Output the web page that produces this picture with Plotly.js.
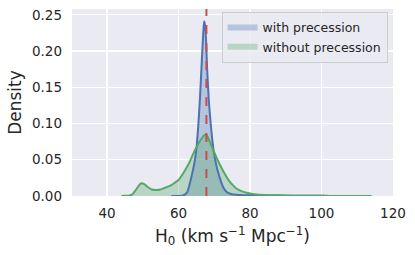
<!DOCTYPE html>
<html>
<head>
<meta charset="utf-8">
<script src="https://cdn.plot.ly/plotly-3.0.1.min.js"></script>
<style>html,body{margin:0;padding:0;background:#fff;}#chart{width:415px;height:255px;}</style>
</head>
<body>
<div id="chart"></div>
<script>
// H0 grid and density values
const withX = [58, 60, 61, 61.5, 62, 62.5, 63, 63.5, 64, 64.5, 65, 65.5, 66, 66.5, 67, 67.2, 67.5, 67.7, 68, 68.5, 69, 69.5, 70, 70.5, 71, 71.5, 72, 72.5, 73, 73.5, 74, 75, 77, 80, 85, 90, 95, 100, 105, 110, 113];
const withY = [0, 0.0001, 0.0004, 0.0012, 0.003, 0.006, 0.014, 0.024, 0.035, 0.047, 0.065, 0.095, 0.135, 0.185, 0.232, 0.241, 0.232, 0.215, 0.175, 0.13, 0.1, 0.075, 0.057, 0.044, 0.034, 0.026, 0.018, 0.012, 0.008, 0.0055, 0.004, 0.0025, 0.0015, 0.001, 0.0007, 0.0005, 0.0003, 0.0002, 0.0001, 0.00005, 0];

const withoutX = [44, 45, 46, 47, 48, 49, 49.6, 50.5, 51.5, 52.5, 53.8, 55, 56, 57, 58, 59, 60, 61, 62, 63, 64, 65, 66, 67, 67.6, 68, 69, 70, 71, 72, 73, 74, 75, 76, 77, 78, 79, 80, 82, 85, 90, 95, 100, 105, 110, 114];
const withoutY = [0, 0.0002, 0.0005, 0.002, 0.008, 0.015, 0.0175, 0.016, 0.012, 0.009, 0.0083, 0.009, 0.011, 0.013, 0.015, 0.0185, 0.022, 0.029, 0.037, 0.046, 0.057, 0.067, 0.076, 0.083, 0.085, 0.083, 0.072, 0.06, 0.049, 0.039, 0.03, 0.022, 0.016, 0.011, 0.008, 0.006, 0.0045, 0.0035, 0.002, 0.0012, 0.0006, 0.0003, 0.0002, 0.0001, 0.00005, 0];

const trueH0 = 67.8;
const seriesNames = ["with precession", "without precession"];
const xTicks = [40, 60, 80, 100, 120];
const yTicks = [0, 0.05, 0.10, 0.15, 0.20, 0.25];

const blue = "#4C72B0", green = "#55A868", red = "#C44E52";
const font = "DejaVu Sans, sans-serif";

const traces = [
  {x: withX, y: withY, type: "scatter", mode: "none", fill: "tozeroy",
   fillcolor: "rgba(76,114,176,0.32)", name: seriesNames[0], hoverinfo: "skip"},
  {x: withoutX, y: withoutY, type: "scatter", mode: "none", fill: "tozeroy",
   fillcolor: "rgba(85,168,104,0.32)", name: seriesNames[1], hoverinfo: "skip"},
  {x: withX, y: withY, type: "scatter", mode: "lines", showlegend: false,
   line: {color: blue, width: 2, shape: "spline", smoothing: 0.5}},
  {x: withoutX, y: withoutY, type: "scatter", mode: "lines", showlegend: false,
   line: {color: green, width: 2, shape: "spline", smoothing: 0.5}}
];

const layout = {
  width: 415, height: 255,
  margin: {l: 72, r: 22, t: 9, b: 59},
  paper_bgcolor: "#ffffff",
  plot_bgcolor: "#EAEAF2",
  font: {family: font, color: "#262626", size: 13},
  showlegend: true,
  legend: {
    x: 0.466, y: 0.985, xanchor: "left", yanchor: "top",
    bgcolor: "rgba(234,234,242,0.85)", bordercolor: "#CCCCCC", borderwidth: 1,
    font: {family: font, size: 12.5, color: "#262626"},
    itemwidth: 30
  },
  xaxis: {
    range: [30.2, 120], tickvals: xTicks, ticktext: xTicks.map(String),
    showgrid: true, gridcolor: "#ffffff", gridwidth: 1.3, zeroline: false,
    showline: false, ticks: "", tickfont: {size: 13.5}, ticklabelstandoff: 7,
    title: {text: "H<sub>0</sub> (km s<sup>\u22121</sup> Mpc<sup>\u22121</sup>)", font: {size: 17}, standoff: 10}
  },
  yaxis: {
    range: [0, 0.258], tickvals: yTicks, ticktext: yTicks.map(v => v.toFixed(2)),
    showgrid: true, gridcolor: "#ffffff", gridwidth: 1.3, zeroline: false,
    showline: false, ticks: "", tickfont: {size: 13.5}, ticklabelstandoff: 9,
    title: {text: "Density", font: {size: 17}, standoff: 5}
  },
  shapes: [{
    type: "line", xref: "x", yref: "paper", x0: trueH0, x1: trueH0, y0: 0, y1: 1,
    line: {color: red, width: 2, dash: "dash"}, layer: "above"
  }]
};

Plotly.newPlot("chart", traces, layout, {displayModeBar: false, staticPlot: true});
</script>
</body>
</html>
